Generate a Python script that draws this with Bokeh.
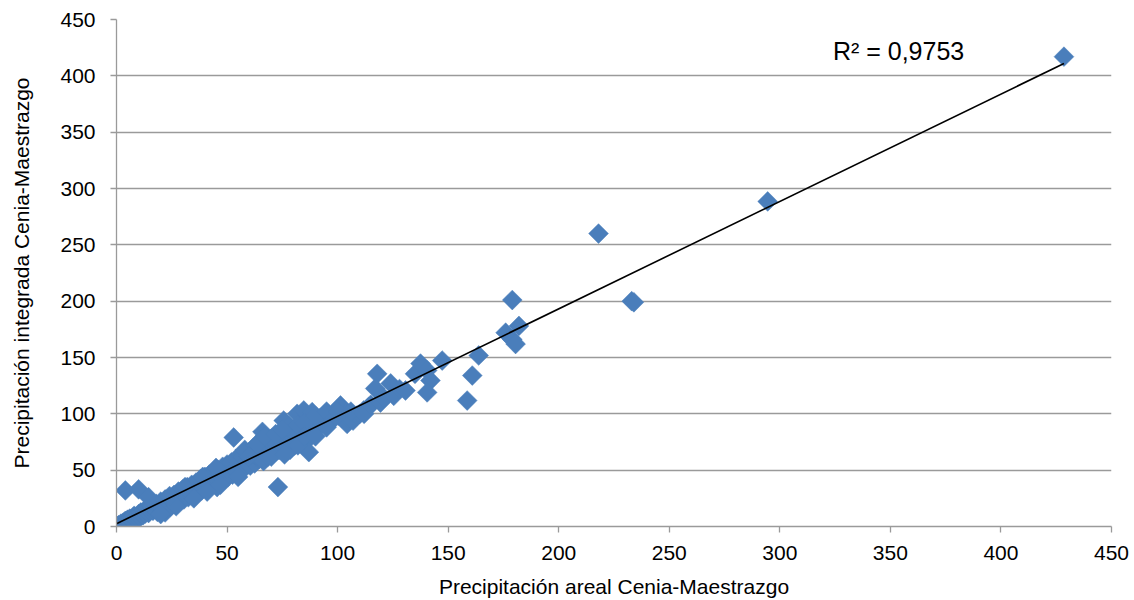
import math
from bokeh.plotting import figure
from bokeh.models import FixedTicker, Range1d, Label
from bokeh.embed import file_html
from bokeh.resources import INLINE

# Precipitación areal (x) vs. precipitación integrada (y), Cenia-Maestrazgo
areal = [
    0, 0.5, 1, 1.5, 2, 2.5, 3, 3.5, 4, 4.5,
    5, 5.5, 6, 7, 7.5, 8, 8.5, 9, 10, 10.5,
    11, 12, 12.5, 13, 14, 14.5, 15, 16, 16.5, 17,
    18, 18.5, 19, 20, 20.5, 21, 22, 22, 23, 24,
    24.5, 25, 26, 26.5, 27, 28, 28.5, 29, 30, 30.5,
    31, 32, 32.5, 33, 34, 34.5, 35, 36, 36.5, 37,
    38, 38.5, 39, 40, 40.5, 41, 42, 42.5, 43, 44,
    44.5, 45, 45.5, 46, 47, 48, 48.5, 49, 50, 50.5,
    51, 52, 52.5, 53, 53.5, 54, 55, 56, 57, 58,
    59, 60, 60.5, 61, 62, 62.5, 63, 64, 64.5, 65,
    66, 66.5, 67, 68, 68.5, 69, 70, 70.5, 71, 72,
    73, 73.5, 74, 75, 75.6, 76, 77, 78, 78.5, 79,
    80, 80.5, 81.7, 82, 83, 84, 84.7, 86, 87, 88.5,
    88, 89, 90, 92, 93, 93.8, 96, 98, 100.5, 101.3,
    102, 103.6, 104.3, 105, 107, 108.8, 110, 111.8, 114,
    58, 63, 67, 72, 75, 82, 85, 90, 95, 98,
    100, 106, 112, 115, 60, 70, 76, 82, 85, 90, 95,
    20, 27, 35, 41, 47, 55, 24, 31, 39, 45,
    117.9, 117, 119.4, 121, 124, 125.4, 128, 130.7,
    135, 137.5, 140.5, 142, 140.5, 147.3, 160.9, 158.6, 163.8,
    176, 179, 182, 179, 180.5, 218, 233, 234, 294.5, 428.5,
    4, 10, 14.5,
]
integrada = [
    0, 0.4, 1.2, 0.6, 2.5, 1.5, 3.5, 2, 5, 3,
    6, 4, 7, 5.5, 8, 9.5, 6.5, 8, 11, 8,
    12.5, 10, 14, 11.5, 16, 12, 14, 18, 14, 15.5,
    20, 13, 17, 22, 16, 19, 24, 12.5, 21, 26,
    18, 23, 28, 20, 25, 31, 22, 27, 33, 24,
    29, 35, 26, 31, 37, 28, 33, 39, 30, 35,
    42, 32, 37, 44, 34, 39, 46, 36, 41, 48,
    38, 43, 35, 50, 45, 53, 42, 47, 55, 44,
    49, 57, 46, 79, 51, 60, 48, 54, 62, 52,
    58, 66, 54, 60, 70, 56, 62, 74, 60, 64,
    84, 58, 66, 76, 62, 70, 78, 66, 72, 74,
    35, 68, 80, 72, 94, 70, 78, 89, 68, 76,
    84, 72, 100, 80, 82.5, 86, 103, 76, 66, 101.5,
    84, 90, 88, 96, 91, 98.5, 94, 100, 98.5, 107.4,
    104, 100, 91, 96, 94, 98.5, 100, 103, 106,
    68, 72, 80, 82, 86, 90, 92, 98, 102, 95,
    102, 102, 100, 108, 62, 62, 64, 72, 80, 80, 88,
    11, 18, 25, 31, 37, 44, 27, 35, 44, 52,
    135.5, 122.5, 110, 114, 127, 116, 122, 120.7,
    135.5, 144.6, 138.5, 129.6, 119, 147.3, 134, 111.8, 151.8,
    172, 201, 178, 166, 162, 260, 200, 199, 288.5, 417,
    32, 33, 26,
]

# Linear trend line as drawn in the picture (from min x to max x)
trend_x = [0, 428.5]
trend_y = [2.5, 411]
r2_text = "R² = 0,9753"

ticks = [0, 50, 100, 150, 200, 250, 300, 350, 400, 450]

FONT = "Liberation Sans"
GRAY = "#9a9a9a"

p = figure(width=1134, height=600, output_backend="svg", toolbar_location=None,
           x_range=Range1d(0, 450), y_range=Range1d(0, 450),
           min_border_left=116, min_border_right=23,
           min_border_top=19, min_border_bottom=74)
p.outline_line_color = None
p.background_fill_color = "white"
p.border_fill_color = "white"

p.xgrid.visible = False
p.ygrid.ticker = FixedTicker(ticks=ticks)
p.ygrid.grid_line_color = GRAY
p.ygrid.grid_line_width = 1.3

for ax in (p.xaxis[0], p.yaxis[0]):
    ax.ticker = FixedTicker(ticks=ticks)
    ax.axis_line_color = GRAY
    ax.axis_line_width = 1.3
    ax.major_tick_line_color = GRAY
    ax.major_tick_line_width = 1.3
    ax.major_tick_out = 6
    ax.major_tick_in = 0
    ax.minor_tick_out = 0
    ax.minor_tick_in = 0
    ax.major_label_text_font = FONT
    ax.major_label_text_font_size = "21px"
    ax.major_label_text_color = "black"
    ax.axis_label_text_font = FONT
    ax.axis_label_text_font_size = "21px"
    ax.axis_label_text_font_style = "normal"
    ax.axis_label_text_color = "black"

p.xaxis.axis_label = "Precipitación areal Cenia-Maestrazgo"
p.yaxis.axis_label = "Precipitación integrada Cenia-Maestrazgo"
p.xaxis.major_label_standoff = 13
p.xaxis.axis_label_standoff = 12
p.yaxis.major_label_standoff = 15
p.yaxis.axis_label_standoff = 24

p.scatter(areal, integrada, marker="square", size=14, angle=math.pi / 4,
          fill_color="#4a7ebb", line_color="#4a7ebb", line_width=0.5)
p.line(trend_x, trend_y, line_color="black", line_width=1.6)

p.add_layout(Label(x=324, y=422, text=r2_text, text_font=FONT,
                   text_font_size="25px", text_color="black",
                   text_baseline="middle", text_align="left"))

open("out.html", "w").write(file_html(p, INLINE))
